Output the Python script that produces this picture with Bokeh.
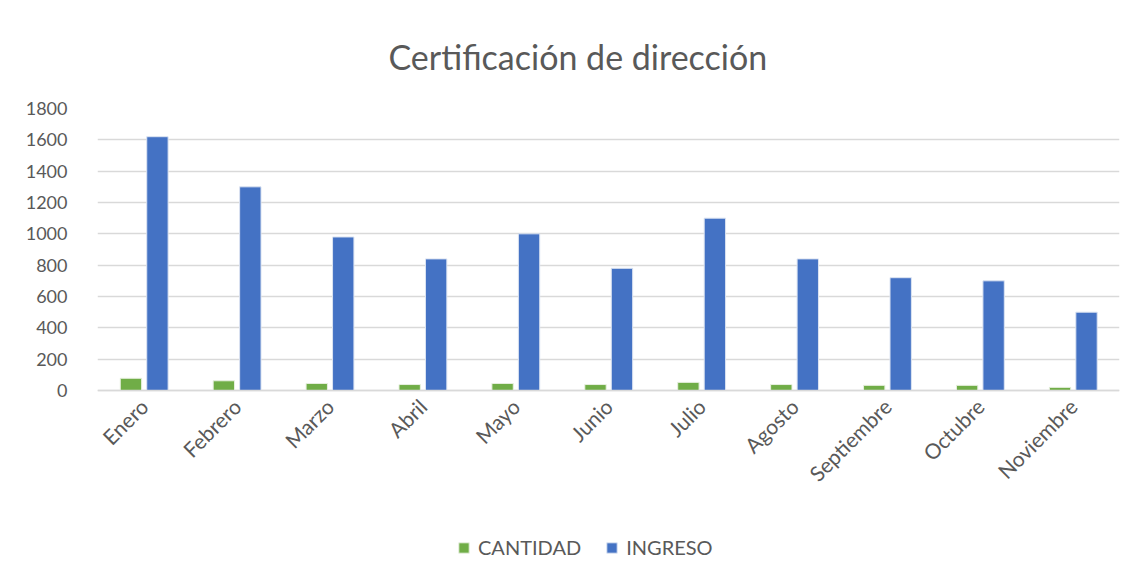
from bokeh.plotting import figure
from bokeh.models import Range1d, FactorRange, Legend, LegendItem, FixedTicker, CategoricalAxis
from bokeh.transform import dodge
from bokeh.embed import file_html
from bokeh.resources import INLINE
from bokeh.models import ColumnDataSource
import math

months = ["Enero", "Febrero", "Marzo", "Abril", "Mayo", "Junio", "Julio",
          "Agosto", "Septiembre", "Octubre", "Noviembre"]
cantidad = [78, 62, 45, 38, 45, 38, 52, 38, 33, 33, 20]
ingreso = [1620, 1300, 980, 840, 1000, 780, 1100, 840, 720, 700, 500]
y_ticks = [0, 200, 400, 600, 800, 1000, 1200, 1400, 1600, 1800]

FONT = "Lato"
TXT = "#595959"
GRID = "#D9D9D9"

# layout (pixels)
W, H = 1125, 569
TOP, LEFT, RIGHT, BOTTOM = 108, 97, 6, 4
ZERO_Y = 390
px_per_unit = (ZERO_Y - TOP) / y_ticks[-1]
y_start = -(H - BOTTOM - ZERO_Y) / px_per_unit

src = ColumnDataSource(dict(month=months, cantidad=cantidad, ingreso=ingreso))

p = figure(width=W, height=H, x_range=FactorRange(*months, range_padding=0),
           y_range=Range1d(y_start, y_ticks[-1]), output_backend="svg", toolbar_location=None,
           min_border_left=LEFT, min_border_right=RIGHT, min_border_top=TOP,
           min_border_bottom=BOTTOM, x_axis_location=None)

g = p.vbar(x=dodge("month", -0.14, range=p.x_range), top="cantidad", width=0.23,
           source=src, fill_color="#70AD47", line_color="#E8F0E0", line_width=1)
b = p.vbar(x=dodge("month", 0.145, range=p.x_range), top="ingreso", width=0.23,
           source=src, fill_color="#4472C4", line_color="#DCE4F2", line_width=1)

p.title.text = "Certificación de dirección"
p.title.text_font = FONT
p.title.text_font_size = "34px"
p.title.text_font_style = "normal"
p.title.text_color = TXT
p.title.align = "left"
p.title.offset = 291
p.title.standoff = 63

p.outline_line_color = None
p.xgrid.grid_line_color = None
p.ygrid.grid_line_color = GRID
p.ygrid.grid_line_width = 1.5
p.ygrid.ticker = FixedTicker(ticks=y_ticks)
p.yaxis.ticker = FixedTicker(ticks=y_ticks)
p.yaxis.axis_line_color = None
p.yaxis.major_tick_line_color = None
p.yaxis.minor_tick_line_color = None
p.yaxis.major_label_text_font = FONT
p.yaxis.major_label_text_font_size = "18px"
p.yaxis.major_label_text_color = TXT
p.yaxis.major_label_standoff = 24

xa = CategoricalAxis(fixed_location=0)
xa.axis_line_color = GRID
xa.axis_line_width = 1.5
xa.major_tick_line_color = None
xa.minor_tick_line_color = None
xa.major_label_orientation = math.pi / 4
xa.major_label_text_font = FONT
xa.major_label_text_font_size = "21px"
xa.major_label_text_color = TXT
xa.major_label_standoff = 6
p.add_layout(xa, "below")

legend = Legend(items=[LegendItem(label="CANTIDAD", renderers=[g]),
                       LegendItem(label="INGRESO", renderers=[b])],
                orientation="horizontal", location=(360, 6),
                label_text_font=FONT, label_text_font_size="20px",
                label_text_color=TXT, glyph_width=13, glyph_height=13,
                label_standoff=8, spacing=24, border_line_color=None,
                background_fill_alpha=0, padding=0, margin=0)
p.add_layout(legend, "center")

open("out.html", "w").write(file_html(p, INLINE))
